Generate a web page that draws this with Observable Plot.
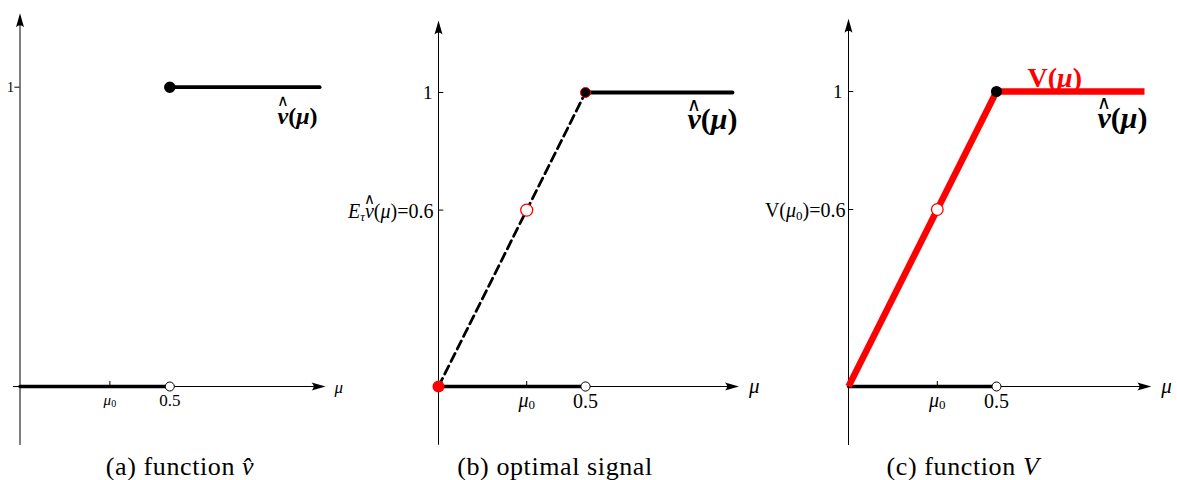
<!DOCTYPE html>
<html><head><meta charset="utf-8">
<script src="https://cdn.jsdelivr.net/npm/d3@7"></script>
<script src="https://cdn.jsdelivr.net/npm/@observablehq/plot@0.6"></script>
<style>
body{margin:0;background:#fff;}
#wrap{position:relative;width:1177px;height:480px;overflow:hidden;background:#fff;}
#wrap svg{position:absolute;left:0;top:0;max-width:none;background:transparent;overflow:visible;}
.cap{position:absolute;top:453px;font-family:"Liberation Serif",serif;font-size:26px;letter-spacing:0.6px;line-height:28px;transform:translateX(-50%);white-space:nowrap;color:#000;}
</style></head><body><div id="wrap"></div>
<script>
// ---------- data ----------
const threshold = 0.5;          // belief cut-off
const mu0 = 0.3;                // prior
const valueAtMu0 = 0.6;         // E v̂ = V(mu0)
const vhatLow = [{mu: 0, v: 0}, {mu: 0.5, v: 0}];
const vhatHigh = [{mu: 0.5, v: 1}, {mu: 1, v: 1}];
const signalSplit = [{mu: 0, v: 0}, {mu: 0.5, v: 1}];
const concavV = [{mu: 0, v: 0}, {mu: 0.5, v: 1}, {mu: 1, v: 1}];
const xTickValues = [0.3, 0.5];
const yTicksA = [1];
const yTicksBC = [0.6, 1];
const captions = ["(a) function <i>v̂</i>", "(b) optimal signal", "(c) function <i>V</i>"];

// ---------- helpers ----------
const SERIF = "Liberation Serif";
const RED = "#ff0000";
const msvg = d3.select("body").append("svg").attr("width", 10).attr("height", 10)
  .style("position", "absolute").style("left", "-100px").style("top", "-100px");
const mtext = msvg.append("text");
function tw(t, size, italic, bold) {
  mtext.attr("font-family", SERIF).attr("font-size", size)
    .attr("font-style", italic ? "italic" : "normal")
    .attr("font-weight", bold ? "bold" : "normal").text(t);
  return mtext.node().getComputedTextLength();
}
function rich(point, runs, {anchor = "start", dx = 0, dy = 0, size = 19, fill = "black"} = {}) {
  const w = runs.map(r => tw(r.t, r.size ?? size, r.italic, r.bold));
  const total = d3.sum(w);
  let cx = anchor === "end" ? -total : anchor === "middle" ? -total / 2 : 0;
  const marks = [];
  runs.forEach((r, i) => {
    marks.push(Plot.text([point], {
      x: "x", y: "y", text: () => r.t, textAnchor: "start",
      dx: dx + cx, dy: dy + (r.shift ?? 0), fontSize: r.size ?? size,
      fontStyle: r.italic ? "italic" : "normal", fontWeight: r.bold ? "bold" : "normal",
      fontFamily: SERIF, fill: r.fill ?? fill
    }));
    if (r.hat) marks.push(Plot.text([point], {
      x: "x", y: "y", text: () => "∧", textAnchor: "middle",
      dx: dx + cx + w[i] / 2 + (r.hat.dx ?? 0), dy: r.hat.dy, fontSize: r.hat.size,
      fontFamily: SERIF, fill: r.fill ?? fill
    }));
    cx += w[i];
  });
  return marks;
}
const arrowHead = {draw(c) { c.moveTo(0, 0); c.lineTo(-4, 14); c.quadraticCurveTo(0, 10, 4, 14); c.closePath(); }};
function axes(top, right, left, bottom) {
  return [
    Plot.ruleX([0], {y1: bottom, y2: top - 0.03, stroke: "black", strokeWidth: 1}),
    Plot.dot([{x: 0, y: top}], {x: "x", y: "y", symbol: arrowHead, fill: "black", stroke: "none", r: 5}),
    Plot.ruleY([0], {x1: left, x2: right - 0.03, stroke: "black", strokeWidth: 1}),
    Plot.dot([{x: right, y: 0}], {x: "x", y: "y", symbol: arrowHead, rotate: 90, fill: "black", stroke: "none", r: 5})
  ];
}
const vhatRuns = (hatDy, hatSize) => [
  {t: "v", italic: true, bold: true, hat: {dy: hatDy, size: hatSize}},
  {t: "(", bold: true}, {t: "μ", italic: true, bold: true}, {t: ")", bold: true}
];
const wrap = document.getElementById("wrap");
function panel(xr, yr, marks) {
  const p = Plot.plot({
    width: 1177, height: 450,
    x: {domain: [0, threshold], range: xr, axis: null},
    y: {domain: [0, 1], range: yr, axis: null},
    style: {background: "transparent", overflow: "visible"},
    marks
  });
  wrap.appendChild(p);
}

// ---------- panel (a) ----------
panel([19.5, 169.3], [386, 86.7], [
  ...axes(1.247, 1.02, -0.022, -0.197),
  Plot.ruleX([xTickValues[0]], {y1: 0, y2: 0.017, stroke: "black"}),
  Plot.ruleY(yTicksA, {x1: -0.017, x2: 0, stroke: "black"}),
  Plot.line(vhatLow, {x: "mu", y: "v", stroke: "black", strokeWidth: 3.5}),
  Plot.line(vhatHigh, {x: "mu", y: "v", stroke: "black", strokeWidth: 3.8}),
  Plot.dot([vhatHigh[0]], {x: "mu", y: "v", r: 5, fill: "black", stroke: "black"}),
  Plot.dot([vhatLow[1]], {x: "mu", y: "v", r: 4.5, fill: "white", stroke: "black", strokeWidth: 1}),
  ...rich({x: 0, y: yTicksA[0]}, [{t: "1"}], {anchor: "end", dx: -6, dy: 0, size: 14}),
  ...rich({x: mu0, y: 0}, [{t: "μ", italic: true}, {t: "0", size: 10, shift: 3}], {anchor: "middle", dy: 14, size: 15}),
  ...rich({x: threshold, y: 0}, [{t: "0.5"}], {anchor: "middle", dy: 13.6, size: 17}),
  ...rich({x: 1.02, y: 0}, [{t: "μ", italic: true}], {dx: 9, dy: 1, size: 17}),
  ...rich({x: 1, y: 1}, vhatRuns(14, 16), {anchor: "end", dx: -2, dy: 29, size: 24})
]);

// ---------- panel (b) ----------
panel([438, 585], [386, 92], [
  ...axes(1.245, 1.022, 0, -0.2),
  Plot.ruleX([xTickValues[0]], {y1: 0, y2: 0.017, stroke: "black"}),
  Plot.ruleY(yTicksBC, {x1: 0, x2: 0.018, stroke: "black"}),
  Plot.line(signalSplit, {x: "mu", y: "v", stroke: "black", strokeWidth: 2.8, strokeDasharray: "9,5"}),
  Plot.line(vhatLow, {x: "mu", y: "v", stroke: "black", strokeWidth: 3.6}),
  Plot.line(vhatHigh, {x: "mu", y: "v", stroke: "black", strokeWidth: 3.8}),
  Plot.dot([signalSplit[0]], {x: "mu", y: "v", r: 5.3, fill: RED, stroke: RED}),
  Plot.dot([signalSplit[1]], {x: "mu", y: "v", r: 5, fill: "black", stroke: RED, strokeWidth: 1}),
  Plot.dot([{mu: mu0, v: valueAtMu0}], {x: "mu", y: "v", r: 6, fill: "white", stroke: RED, strokeWidth: 1.3}),
  Plot.dot([vhatLow[1]], {x: "mu", y: "v", r: 4.6, fill: "white", stroke: "black", strokeWidth: 1}),
  ...rich({x: 0, y: yTicksBC[1]}, [{t: "1"}], {anchor: "end", dx: -6, dy: 0, size: 19}),
  ...rich({x: 0, y: yTicksBC[0]}, [
    {t: "E", italic: true}, {t: "τ", italic: true, size: 13, shift: 5},
    {t: "v", italic: true, hat: {dy: -11, size: 15}},
    {t: "("}, {t: "μ", italic: true}, {t: ")=" + valueAtMu0}
  ], {anchor: "end", dx: -5, dy: 1.3, size: 20}),
  ...rich({x: mu0, y: 0}, [{t: "μ", italic: true}, {t: "0", size: 13, shift: 5}], {anchor: "middle", dy: 13.6, size: 20}),
  ...rich({x: threshold, y: 0}, [{t: "0.5"}], {anchor: "middle", dy: 14.6, size: 20}),
  ...rich({x: 1.022, y: 0}, [{t: "μ", italic: true}], {dx: 10, dy: 0, size: 21}),
  ...rich({x: 1, y: 1}, vhatRuns(12, 19), {anchor: "end", dx: 5, dy: 27, size: 30})
]);

// ---------- panel (c) ----------
panel([848, 996], [386, 91], [
  ...axes(1.247, 1.023, 0, -0.2),
  Plot.ruleX([xTickValues[0]], {y1: 0, y2: 0.017, stroke: "black"}),
  Plot.ruleY(yTicksBC, {x1: 0, x2: 0.018, stroke: "black"}),
  Plot.line(vhatLow, {x: "mu", y: "v", stroke: "black", strokeWidth: 3.3}),
  Plot.line(concavV, {x: "mu", y: "v", stroke: RED, strokeWidth: 6.5, strokeLinejoin: "miter", strokeLinecap: "butt"}),
  Plot.dot([concavV[1]], {x: "mu", y: "v", r: 4.8, fill: "black", stroke: "black"}),
  Plot.dot([{mu: mu0, v: valueAtMu0}], {x: "mu", y: "v", r: 5.8, fill: "white", stroke: RED, strokeWidth: 1.3}),
  Plot.dot([vhatLow[1]], {x: "mu", y: "v", r: 4.5, fill: "white", stroke: "black", strokeWidth: 1}),
  ...rich({x: 0, y: yTicksBC[1]}, [{t: "1"}], {anchor: "end", dx: -6, dy: 0, size: 19}),
  ...rich({x: 0, y: yTicksBC[0]}, [
    {t: "V("}, {t: "μ", italic: true}, {t: "0", size: 13, shift: 5}, {t: ")=" + valueAtMu0}
  ], {anchor: "end", dx: -3, dy: 1.3, size: 20}),
  ...rich({x: mu0, y: 0}, [{t: "μ", italic: true}, {t: "0", size: 13, shift: 5}], {anchor: "middle", dy: 13.6, size: 20}),
  ...rich({x: threshold, y: 0}, [{t: "0.5"}], {anchor: "middle", dy: 14.6, size: 20}),
  ...rich({x: 1.023, y: 0}, [{t: "μ", italic: true}], {dx: 10, dy: 0, size: 21}),
  ...rich({x: threshold, y: 1}, [
    {t: "V", bold: true}, {t: "(", bold: true}, {t: "μ", bold: true, italic: true}, {t: ")", bold: true}
  ], {dx: 31, dy: -13, size: 28, fill: RED}),
  ...rich({x: 1, y: 1}, vhatRuns(11, 19), {anchor: "end", dx: 3, dy: 27, size: 30})
]);

// measuring helper no longer needed
msvg.remove();

// ---------- captions ----------
const capX = [180, 555, 963];
captions.forEach((c, i) => {
  const d = document.createElement("div");
  d.className = "cap";
  d.style.left = capX[i] + "px";
  d.innerHTML = c;
  wrap.appendChild(d);
});
</script></body></html>
